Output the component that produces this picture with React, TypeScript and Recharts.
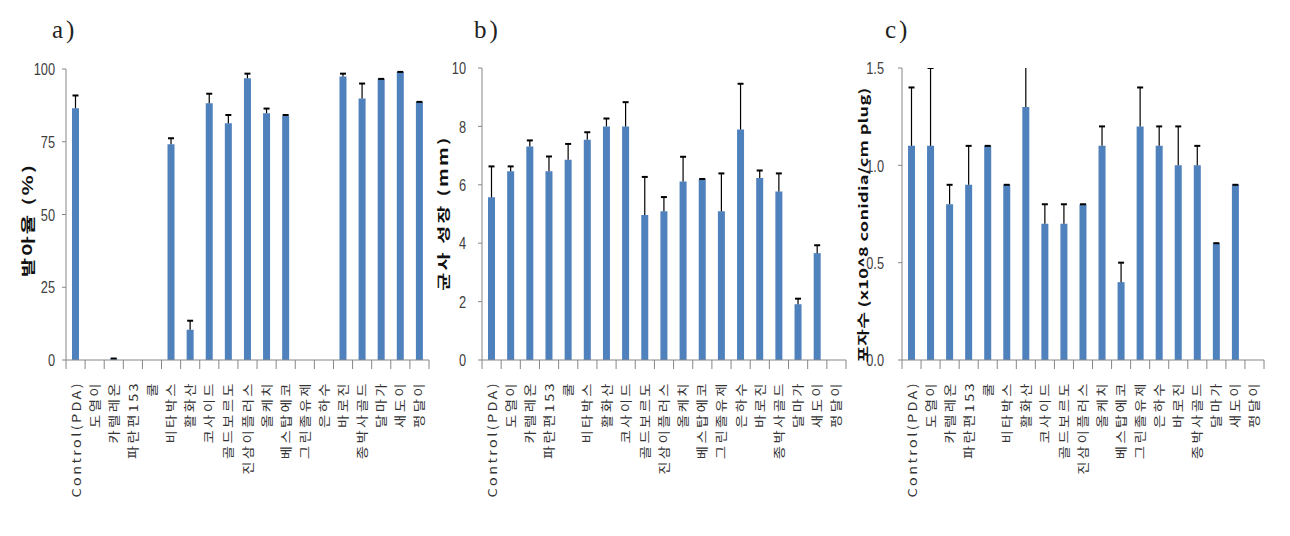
import { Bar, BarChart, XAxis, YAxis } from 'recharts'

const categories = ['Control(PDA)', '도열이', '카렐레온', '파란편153', '쿨', '비타박스', '활화산', '코사이드', '골드보르도', '진삼이플러스', '올케치', '베스탑에코', '그린졸유제', '은하수', '바로진', '종박사골드', '달마가', '새도이', '펑달이']

// a) 발아율 (%)
const germination = [86.5, 0, 0.5, 0, 0, 74.1, 10.4, 88.2, 81.4, 96.8, 84.8, 83.9, 0, 0, 97.4, 89.9, 96.6, 99, 88.7]
const germinationErr = [4.4, null, 0, null, null, 2.1, 3.1, 3.3, 2.8, 1.6, 1.6, 0.3, null, null, 1.0, 5.1, 0, 0, 0]

// b) 균사 성장 (mm)
const mycelium = [5.57, 6.46, 7.31, 6.46, 6.86, 7.54, 8.0, 8.0, 4.97, 5.09, 6.11, 6.2, 5.09, 7.89, 6.23, 5.77, 1.91, 3.66, 0]
const myceliumErr = [1.06, 0.17, 0.21, 0.51, 0.54, 0.26, 0.27, 0.83, 1.3, 0.49, 0.85, 0, 1.3, 1.57, 0.26, 0.62, 0.19, 0.27, null]

// c) 포자수
const spores = [1.1, 1.1, 0.8, 0.9, 1.1, 0.9, 1.3, 0.7, 0.7, 0.8, 1.1, 0.4, 1.2, 1.1, 1.0, 1.0, 0.6, 0.9, 0]
const sporesErr = [0.3, 0.4, 0.1, 0.2, 0, 0, 0.3, 0.1, 0.1, 0, 0.1, 0.1, 0.2, 0.1, 0.2, 0.1, 0, 0, null]

const ticksA = [0, 25, 50, 75, 100]
const ticksB = [0, 2, 4, 6, 8, 10]
const ticksC = [0, 0.5, 1.0, 1.5]

const BLUE = '#4F81BD'
const AXIS = '#868686'
const KR = "'Noto Sans CJK KR', sans-serif"

type Row = { name: string; v: number; e: number | null }

const rows = (vals: number[], errs: (number | null)[]): Row[] =>
  categories.map((name, i) => ({ name, v: vals[i], e: errs[i] }))

function ErrShape(p: any) {
  if (p.x == null || p.y == null) return null
  const cx = p.x + p.width / 2
  const h = Math.abs(p.height ?? 0)
  const top = (p.height ?? 0) < 0 ? p.y + p.height : p.y
  return (
    <g>
      {h > 0 && <line x1={cx} x2={cx} y1={top} y2={top + h} stroke="#000" strokeWidth={1.2} />}
      <line x1={cx - 3} x2={cx + 3} y1={top} y2={top} stroke="#000" strokeWidth={2} />
    </g>
  )
}

function CatTick(p: any) {
  const { x, y, payload, index, band } = p
  return (
    <g>
      <line x1={x - band / 2} x2={x - band / 2} y1={y} y2={y + 9} stroke={AXIS} />
      {index === categories.length - 1 && <line x1={x + band / 2} x2={x + band / 2} y1={y} y2={y + 9} stroke={AXIS} />}
      <text
        transform={`translate(${x + 5},${y + 21}) rotate(-90) scale(1.2,1)`}
        textAnchor="end"
        fontSize={12}
        letterSpacing={2}
        fontFamily={KR}
        fill="#333"
      >
        {payload.value}
      </text>
    </g>
  )
}

function ValTick(p: any) {
  const { x, y, payload, fmt } = p
  return (
    <text
      transform={`translate(${x},${y}) scale(0.8,1.05)`}
      textAnchor="end"
      dominantBaseline="central"
      fontSize={16}
      fontFamily="'Liberation Sans', Arial, sans-serif"
      fill="#404040"
    >
      {fmt ? fmt(payload.value) : payload.value}
    </text>
  )
}

type PanelProps = {
  data: Row[]
  left: number
  width: number
  plotLeft: number
  plotRight: number
  plotTop: number
  gap: number
  domain: [number, number]
  ticks: number[]
  fmt?: (v: number) => string
}

function Panel({ data, left, width, plotLeft, plotRight, plotTop, gap, domain, ticks, fmt }: PanelProps) {
  const band = (plotRight - plotLeft) / categories.length
  return (
    <div style={{ position: 'absolute', left, top: 0 }}>
      <BarChart
        width={width}
        height={536}
        data={data}
        margin={{ top: plotTop, bottom: 536 - 360 - 150, left: plotLeft - 40, right: width - plotRight }}
        barSize={7}
        barGap={-7}
      >
        <XAxis
          dataKey="name"
          interval={0}
          height={150}
          axisLine={{ stroke: AXIS }}
          tickLine={false}
          tickSize={0}
          tickMargin={0}
          tick={(props: any) => <CatTick {...props} band={band} />}
        />
        <YAxis
          type="number"
          domain={domain}
          ticks={ticks}
          allowDataOverflow
          width={40}
          interval={0}
          axisLine={{ stroke: AXIS }}
          tickLine={{ stroke: AXIS }}
          tickSize={4}
          tickMargin={gap}
          tick={(props: any) => <ValTick {...props} fmt={fmt} />}
        />
        <Bar dataKey="v" fill={BLUE} isAnimationActive={false} />
        <Bar
          dataKey={(d: Row) => (d.e == null ? null : [d.v, d.v + d.e])}
          shape={ErrShape}
          isAnimationActive={false}
        />
      </BarChart>
    </div>
  )
}

function VLabel({ x, y, text, size, stretch, spacing }: { x: number; y: number; text: string; size: number; stretch: number; spacing: number }) {
  return (
    <text
      transform={`translate(${x},${y}) rotate(-90) scale(${stretch},1)`}
      textAnchor="middle"
      dominantBaseline="central"
      fontSize={size}
      fontWeight={700}
      letterSpacing={spacing}
      fontFamily={KR}
      fill="#111"
    >
      {text}
    </text>
  )
}

export default function App() {
  return (
    <div style={{ position: 'absolute', left: 0, top: 0, width: 1290, height: 536, background: '#fff', overflow: 'hidden' }}>
      <Panel data={rows(germination, germinationErr)} left={0} width={440} plotLeft={66} plotRight={429} plotTop={69} gap={7} domain={[0, 100]} ticks={ticksA} />
      <Panel data={rows(mycelium, myceliumErr)} left={440} width={420} plotLeft={42} plotRight={406} plotTop={68} gap={12} domain={[0, 10]} ticks={ticksB} />
      <Panel data={rows(spores, sporesErr)} left={860} width={430} plotLeft={42} plotRight={404} plotTop={68} gap={14} domain={[0, 1.5]} ticks={ticksC} fmt={(v) => v.toFixed(1)} />
      <svg width={1290} height={536} style={{ position: 'absolute', left: 0, top: 0, pointerEvents: 'none' }}>
        <g fontFamily="'Liberation Serif', serif" fontSize={25} fill="#222" letterSpacing={3}>
          <text x={52} y={38}>a)</text>
          <text x={474} y={38}>b)</text>
          <text x={885} y={38}>c)</text>
        </g>
        <VLabel x={27} y={220} text="발아율 (%)" size={14} stretch={1.5} spacing={1.5} />
        <VLabel x={443} y={213} text="균사 성장 (mm)" size={13} stretch={1.5} spacing={1.5} />
        <VLabel x={862} y={225} text="포자수 (x10^8 conidia/cm plug)" size={12.5} stretch={1.45} spacing={0.2} />
      </svg>
    </div>
  )
}
